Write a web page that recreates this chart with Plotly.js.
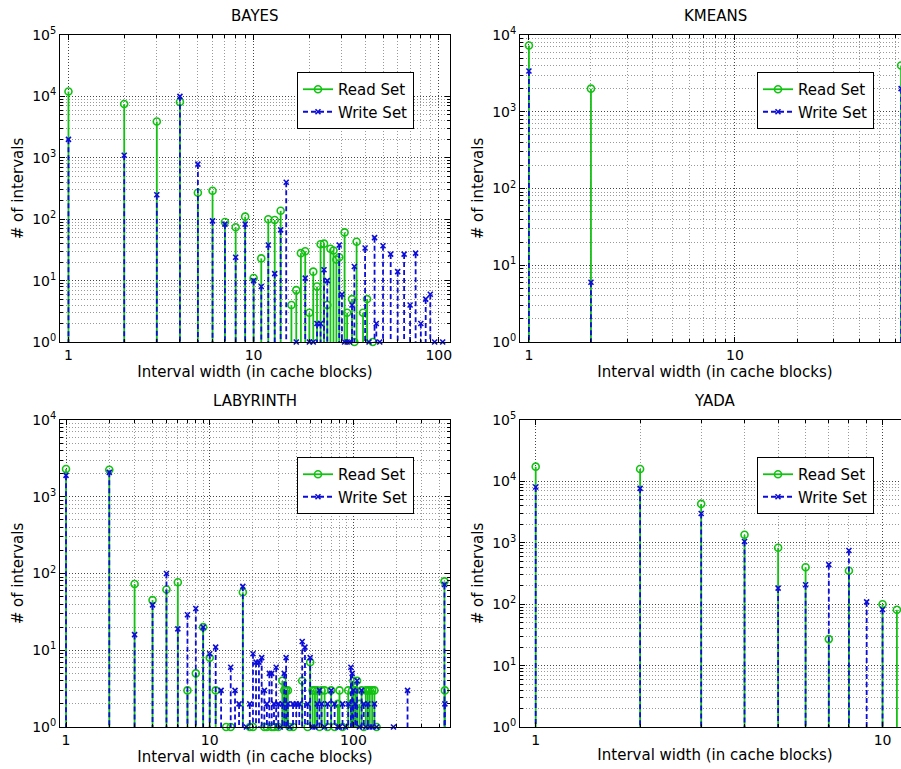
<!DOCTYPE html>
<html><head><meta charset="utf-8">
<script src="https://cdn.plot.ly/plotly-3.0.1.min.js"></script>
<style>html,body{margin:0;padding:0;overflow:hidden;background:#fff}#chart{width:960px;height:769px}</style>
</head><body><div id="chart"></div>
<script>
// ---------------- data ----------------
const panelTitles = ['BAYES', 'KMEANS', 'LABYRINTH', 'YADA'];
const seriesNames = ['Read Set', 'Write Set'];
const xAxisTitle = 'Interval width (in cache blocks)';
const yAxisTitle = '# of intervals';

const bayesX = [1,2,3,4,5,6,7,8,9,10,
  11,12,13,14,15,16,17,18,19,20,
  21,22,23,24,25,26,27,28,29,30,
  31,32,33,34,35,36,39,40,41,42,
  44,45,46,48,50,55,60,65,70,75,
  80,85,90,95,105];
const bayesRead = [12000,7500,3900,8100,270,290,90,74,110,11,
  23,100,97,137,null,4,7,28,30,3,
  14,8,39,40,4,33,31,22,24,null,
  61,3,null,5,1,43,3,null,5,null,
  1,null,null,null,null,null,null,null,null,null,
  null,null,null,null,null];
const bayesWrite = [2000,1100,250,10000,790,94,83,24,83,10,
  8,38,13,67,400,null,1,null,11,1,
  1,2,2,15,10,null,null,null,38,6,
  1,1,1,4,17,null,null,34,null,1,
  null,50,2,1,37,27,14,27,4,28,
  2,5,6,1,1];

const kmeansX = [1, 2, 64];
const kmeansRead = [7300, 2000, 4000];
const kmeansWrite = [3400, 6, 2000];

const labX = [1,2,3,4,5,6,7,8,9,10,
  11,12,13,14,15,16,17,18,19,20,
  21,22,23,24,25,26,27,28,29,30,
  31,32,33,34,35,36,38,40,42,44,
  46,48,50,52,54,56,58,60,63,66,
  70,74,78,80,84,88,92,96,98,100,
  103,106,110,114,118,122,126,130,135,140,
  145,190,238,430,433];
const labRead = [2300,2250,73,45,62,77,3,5,20,8,
  3,null,1,1,null,null,57,null,1,1,
  null,null,null,1,1,null,1,1,null,1,
  null,4,3,3,3,1,1,null,null,4,
  null,1,7,3,3,3,1,3,3,1,
  3,1,2,3,1,null,3,2,3,4,
  3,4,2,3,1,3,3,3,3,3,
  1,null,null,79,3];
const labWrite = [1900,2080,16,39,100,19,29,35,20,9,
  11,3,null,6,3,2,68,1,2,9,
  7,7,8,3,2,5,5,2,6,2,
  1,2,5,8,2,1,2,2,2,13,
  11,2,8,1,1,2,3,2,1,2,
  3,2,1,1,2,1,2,6,5,3,
  2,4,1,3,2,1,2,1,1,2,
  1,1,3,72,2];

const yadaX = [1,2,3,4,5,6,7,8,9,10,11];
const yadaRead = [17400,15900,4300,1350,830,400,27,350,null,100,81];
const yadaWrite = [8100,7700,3000,1050,183,207,440,750,109,82,null];

const xTickVals = [1, 10, 100];
const xTickText = ['1', '10', '100'];
const yTickVals = [1, 10, 100, 1000, 10000, 100000];
const yTickText = ['10<sup>0</sup>','10<sup>1</sup>','10<sup>2</sup>','10<sup>3</sup>','10<sup>4</sup>','10<sup>5</sup>'];

// ---------------- style / layout ----------------
const FIG_W = 960, FIG_H = 769;
const GREEN = '#12c212', BLUE = '#0c0cd8';
const FONT = 'DejaVu Sans, Arial, sans-serif';
const px = v => v / FIG_W;
const py = v => 1 - v / FIG_H;

const minorVals = [];
for (let k = -1; k <= 3; k++) for (let m = 2; m <= 9; m++) minorVals.push(m * Math.pow(10, k));

function stems(xs, vals, name, color, dash, symbol, size, xa, ya, legendId) {
  const sx = [], sy = [], mc = [];
  xs.forEach((x, i) => {
    const v = vals[i];
    if (v == null) return;
    sx.push(x, x, null); sy.push(v, 1, null);
    mc.push(color, 'rgba(0,0,0,0)', 'rgba(0,0,0,0)');
  });
  return {type: 'scatter', mode: 'lines+markers', x: sx, y: sy, xaxis: xa, yaxis: ya,
    name: name, legend: legendId, showlegend: true, cliponaxis: false, hoverinfo: 'skip',
    line: {color: color, width: 1.8, dash: dash},
    marker: {symbol: symbol, size: size, color: mc, line: {width: 1.6}}};
}

const panels = [
  {x: bayesX, r: bayesRead, w: bayesWrite, xa: 'x', ya: 'y', lg: 'legend'},
  {x: kmeansX, r: kmeansRead, w: kmeansWrite, xa: 'x2', ya: 'y2', lg: 'legend2'},
  {x: labX, r: labRead, w: labWrite, xa: 'x3', ya: 'y3', lg: 'legend3'},
  {x: yadaX, r: yadaRead, w: yadaWrite, xa: 'x4', ya: 'y4', lg: 'legend4'}
];
const traces = [];
panels.forEach(p => {
  traces.push(stems(p.x, p.r, seriesNames[0], GREEN, 'solid', 'circle-open', 7, p.xa, p.ya, p.lg));
  traces.push(stems(p.x, p.w, seriesNames[1], BLUE, '5px,3px', 'x-thin-open', 5, p.xa, p.ya, p.lg));
});

function axisCommon() {
  return {type: 'log', showline: true, linecolor: '#000', linewidth: 1, mirror: 'ticks',
    ticks: 'inside', ticklen: 5, tickcolor: '#000', zeroline: false,
    showgrid: true, gridcolor: '#444', gridwidth: 1, griddash: '1px,2px',
    tickfont: {family: FONT, size: 14, color: '#000'},
    minor: {tickmode: 'array', tickvals: minorVals, ticks: 'inside', ticklen: 3, tickcolor: '#000',
      showgrid: true, gridcolor: '#999', gridwidth: 1, griddash: '1px,2px'},
    automargin: false, fixedrange: true};
}
function xAx(l, r, range, anchor) {
  return Object.assign(axisCommon(), {domain: [px(l), px(r)], range: range, anchor: anchor,
    tickmode: 'array', tickvals: xTickVals, ticktext: xTickText,
    title: {text: xAxisTitle, font: {family: FONT, size: 15, color: '#000'}, standoff: 2}});
}
function yAx(t, b, range, anchor) {
  return Object.assign(axisCommon(), {domain: [py(b), py(t)], range: range, anchor: anchor,
    tickmode: 'array', tickvals: yTickVals, ticktext: yTickText,
    title: {text: yAxisTitle, font: {family: FONT, size: 15, color: '#000'}, standoff: 4}});
}
function legendAt(l, t) {
  return {x: px(l), y: py(t), xanchor: 'left', yanchor: 'top', bgcolor: '#fff',
    bordercolor: '#000', borderwidth: 1, itemwidth: 30, tracegroupgap: 0,
    font: {family: FONT, size: 15, color: '#000'}};
}
const titleAnn = (txt, cx, cy) => ({text: txt, x: px(cx), y: py(cy), xref: 'paper', yref: 'paper',
  xanchor: 'center', yanchor: 'middle', showarrow: false, font: {family: FONT, size: 15, color: '#000'}});

const lg = Math.log10;
const layout = {
  width: FIG_W, height: FIG_H, margin: {l: 0, r: 0, t: 0, b: 0},
  paper_bgcolor: '#fff', plot_bgcolor: '#fff', font: {family: FONT, color: '#000'},
  xaxis: xAx(60, 450, [lg(0.9), lg(115)], 'y'),
  yaxis: yAx(35, 342, [0, 5], 'x'),
  xaxis2: xAx(520, 910, [lg(0.905), lg(70.7)], 'y2'),
  yaxis2: yAx(35, 342, [0, 4], 'x2'),
  xaxis3: xAx(60, 450, [lg(0.908), lg(470)], 'y3'),
  yaxis3: yAx(420, 727, [0, 4], 'x3'),
  xaxis4: xAx(520, 910, [lg(0.901), lg(12)], 'y4'),
  yaxis4: yAx(420, 727, [0, 5], 'x4'),
  legend: legendAt(297, 72), legend2: legendAt(757, 72),
  legend3: legendAt(297, 457), legend4: legendAt(757, 457),
  annotations: [titleAnn(panelTitles[0], 255, 16), titleAnn(panelTitles[1], 715, 16),
                titleAnn(panelTitles[2], 255, 401), titleAnn(panelTitles[3], 715, 401)],
  showlegend: true
};
Plotly.newPlot('chart', traces, layout, {displayModeBar: false, staticPlot: true});
</script></body></html>
